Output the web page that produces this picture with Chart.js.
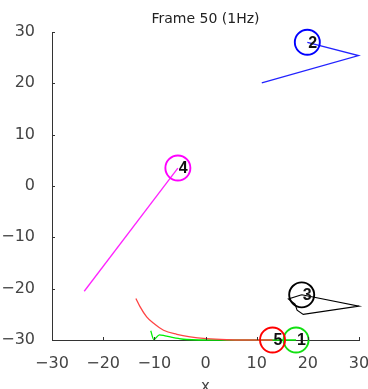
<!DOCTYPE html>
<html>
<head>
<meta charset="utf-8">
<script src="https://cdn.jsdelivr.net/npm/chart.js@4"></script>
<style>
  html, body { margin: 0; padding: 0; background: #fff; overflow: hidden; }
  #wrap { width: 368px; height: 400px; }
</style>
</head>
<body>
<div id="wrap"><canvas id="c"></canvas></div>
<script>
// ----------------- Data -----------------

const titleText = "Frame 50 (1Hz)";
const tickValues = [-30, -20, -10, 0, 10, 20, 30];

// current positions (circle + label)
const objIds = ["1", "2", "3", "4", "5"];
const objX = [17.7, 19.9, 18.8, -5.4, 13.1];
const objY = [-30.0, 28.0, -21.2, 3.5, -30.0];
const objColors = ["#11e011", "#0000ff", "#000000", "#ff00ff", "#ff0000"];

// trails
const trail1X = [-10.7, -10.1, -9.0, -7.9, -6.9, -5.3, -3.7, 2.0, 17.7];
const trail1Y = [-28.2, -29.9, -29.0, -29.2, -29.4, -29.7, -29.9, -30.0, -30.0];

const trail2X = [19.9, 29.9, 11.0];
const trail2Y = [28.0, 25.4, 20.1];

const trail3X = [18.8, 30.0, 19.1, 17.9, 17.5, 16.2, 18.8];
const trail3Y = [-21.2, -23.4, -25.0, -24.2, -23.0, -22.0, -21.2];

const trail4X = [-5.4, -23.7];
const trail4Y = [3.5, -20.5];

const trail5X = [-13.6, -12.8, -11.5, -10.2, -8.2, -5.6, -3.0, 0.2, 4.1, 8.0, 13.1];
const trail5Y = [-21.9, -23.5, -25.5, -26.7, -28.1, -28.9, -29.4, -29.75, -29.95, -30.0, -30.0];

// ----------------- Helpers -----------------

function toPoints(xs, ys) {
  return xs.map((x, i) => ({ x, y: ys[i] }));
}

function trail(xs, ys, color, width, smooth) {
  return {
    data: toPoints(xs, ys),
    showLine: true,
    borderColor: color,
    borderWidth: width,
    pointRadius: 0,
    fill: false,
    tension: smooth ? 0.4 : 0,
    cubicInterpolationMode: smooth ? "monotone" : "default",
    clip: false,
    order: 10,
  };
}

const circles = {
  data: toPoints(objX, objY),
  showLine: false,
  pointStyle: "circle",
  pointRadius: 12.5,
  pointBorderWidth: 1.9,
  pointBorderColor: objColors,
  pointBackgroundColor: "rgba(0,0,0,0)",
  pointHoverRadius: 12.5,
  clip: false,
  order: 1,
};

// labels next to the circles, inward tick marks
const extras = {
  id: "extras",
  afterDatasetsDraw(chart) {
    const { ctx, scales } = chart;
    const xs = scales.x;
    const ys = scales.y;
    ctx.save();
    ctx.strokeStyle = "#333";
    ctx.lineWidth = 1;
    ctx.beginPath();
    tickValues.forEach((v) => {
      const px = Math.round(xs.getPixelForValue(v)) + 0.5;
      ctx.moveTo(px, ys.bottom);
      ctx.lineTo(px, ys.bottom - 3);
      const py = Math.round(ys.getPixelForValue(v)) + 0.5;
      ctx.moveTo(xs.left, py);
      ctx.lineTo(xs.left + 3, py);
    });
    ctx.stroke();

    ctx.fillStyle = "#111";
    ctx.font = "bold 16px 'Liberation Sans'";
    ctx.textAlign = "left";
    ctx.textBaseline = "middle";
    objIds.forEach((id, i) => {
      const px = xs.getPixelForValue(objX[i]);
      const py = ys.getPixelForValue(objY[i]);
      ctx.fillText(id, px + 1, py + 1);
    });
    ctx.restore();
  },
};

const fmt = (v) => String(v).replace("-", "\u2212");

new Chart(document.getElementById("c"), {
  type: "scatter",
  data: {
    datasets: [
      circles,
      trail(trail5X, trail5Y, "#ff4444", 1.3, true),
      trail(trail1X, trail1Y, "#00ee00", 1.3, true),
      trail(trail2X, trail2Y, "#2222ff", 1.3, false),
      trail(trail3X, trail3Y, "#000000", 1.1, false),
      trail(trail4X, trail4Y, "#ff22ff", 1.3, false),
    ],
  },
  options: {
    responsive: true,
    maintainAspectRatio: false,
    animation: false,
    events: [],
    layout: { autoPadding: false, padding: { left: 0, right: 9, top: 0, bottom: 0 } },
    plugins: {
      legend: { display: false },
      tooltip: { enabled: false },
      title: {
        display: true,
        text: titleText,
        fullSize: false,
        color: "#222",
        font: { family: "'DejaVu Sans'", size: 14, weight: "normal", lineHeight: 1.1 },
        padding: { top: 12, bottom: 4.6 },
      },
    },
    scales: {
      x: {
        type: "linear",
        min: -30,
        max: 30,
        afterBuildTicks: (s) => { s.ticks = tickValues.map((v) => ({ value: v })); },
        ticks: {
          color: "#444",
          padding: 6,
          maxRotation: 0,
          font: { family: "'DejaVu Sans'", size: 16 },
          callback: fmt,
        },
        grid: { display: false },
        border: { display: true, color: "#333", width: 1 },
        title: {
          display: true,
          text: "x",
          color: "#444",
          font: { family: "'DejaVu Sans'", size: 15 },
          padding: { top: 4, bottom: 4 },
        },
        afterFit: (s) => {
          s.height = 60;
          s.paddingLeft = 0;
          s.paddingRight = 0;
        },
      },
      y: {
        type: "linear",
        min: -30,
        max: 30,
        afterBuildTicks: (s) => { s.ticks = tickValues.map((v) => ({ value: v })); },
        ticks: {
          color: "#444",
          padding: 9,
          font: { family: "'DejaVu Sans'", size: 16 },
          callback: fmt,
        },
        grid: { display: false },
        border: { display: true, color: "#333", width: 1 },
        afterFit: (s) => {
          s.width = 52;
          s.paddingTop = 0;
          s.paddingBottom = 0;
        },
      },
    },
  },
  plugins: [extras],
});
</script>
</body>
</html>
